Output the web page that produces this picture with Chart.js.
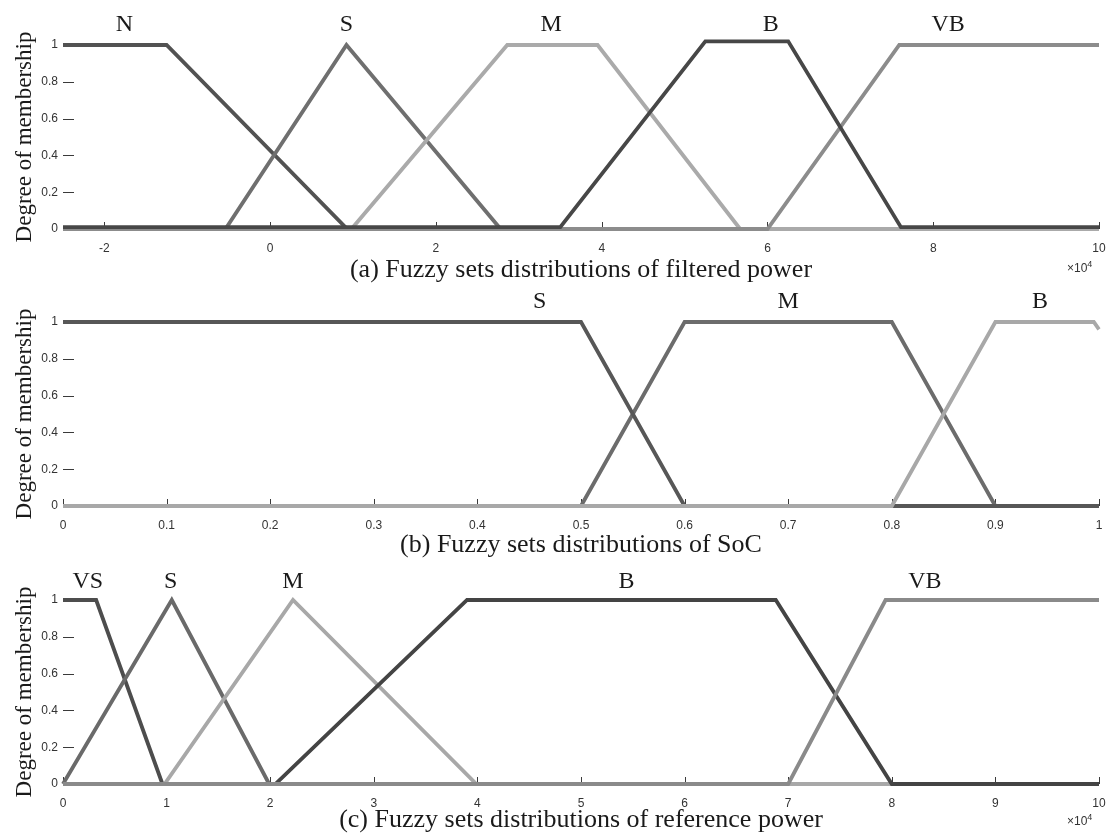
<!DOCTYPE html>
<html>
<head>
<meta charset="utf-8">
<script src="https://cdn.jsdelivr.net/npm/chart.js@4.4.1/dist/chart.umd.min.js"></script>
<style>
  html, body { margin: 0; padding: 0; background: #fff; }
  body { width: 1110px; height: 836px; position: relative; overflow: hidden; }
  canvas { position: absolute; left: 0; }
  .cap { position: absolute; left: 0; width: 1162px; text-align: center; font-family: "Liberation Serif", "Times New Roman", serif; font-size: 26px; line-height: 26px; color: #1a1a1a; white-space: nowrap; }
  .mult { position: absolute; left: 1067px; font-family: "Liberation Sans", Arial, sans-serif; font-size: 12px; line-height: 12px; color: #333; }
  .mult sup { font-size: 9px; vertical-align: 5px; line-height: 0; }
</style>
</head>
<body>
<canvas id="cA" width="1110" height="252" style="top:0px"></canvas>
<canvas id="cB" width="1110" height="252" style="top:277px"></canvas>
<canvas id="cC" width="1110" height="252" style="top:555px"></canvas>
<div class="cap" style="top:256px">(a) Fuzzy sets distributions of filtered power</div>
<div class="cap" style="top:531px">(b) Fuzzy sets distributions of SoC</div>
<div class="cap" style="top:806px">(c) Fuzzy sets distributions of reference power</div>
<div class="mult" style="top:262px">&times;10<sup>4</sup></div>
<div class="mult" style="top:815px">&times;10<sup>4</sup></div>
<script>
// ---------- shared ----------
const yTicks = [0, 0.2, 0.4, 0.6, 0.8, 1];
const yTickLabels = ["0", "0.2", "0.4", "0.6", "0.8", "1"];
const yTitle = "Degree of membership";

// ---------- panel (a): filtered power (x in units of 10^4) ----------
const aRange = [-2.5, 10];
const aTicks = [-2, 0, 2, 4, 6, 8, 10];
const aSetNames = ["N", "S", "M", "B", "VB"];
const aLabelX = [-1.76, 0.92, 3.39, 6.04, 8.18];
const aN_x  = [-2.5, -1.25, 0.93, 10];
const aN_y  = [1, 1, 0, 0];
const aS_x  = [-2.5, -0.54, 0.92, 2.78, 10];
const aS_y  = [0, 0, 1, 0, 0];
const aM_x  = [-2.5, 0.98, 2.86, 3.95, 5.67, 10];
const aM_y  = [0, 0, 1, 1, 0, 0];
const aB_x  = [-2.5, 3.5, 5.25, 6.25, 7.61, 10];
const aB_y  = [0.01, 0.01, 1.02, 1.02, 0.01, 0.01];
const aVB_x = [-2.5, 6.0, 7.59, 10];
const aVB_y = [0, 0, 1, 1];

// ---------- panel (b): SoC ----------
const bRange = [0, 1];
const bTicks = [0, 0.1, 0.2, 0.3, 0.4, 0.5, 0.6, 0.7, 0.8, 0.9, 1];
const bSetNames = ["S", "M", "B"];
const bLabelX = [0.46, 0.70, 0.943];
const bS_x = [0, 0.5, 0.6, 1];
const bS_y = [1, 1, 0, 0];
const bM_x = [0, 0.5, 0.6, 0.8, 0.9, 1];
const bM_y = [0, 0, 1, 1, 0, 0];
const bB_x = [0, 0.8, 0.9, 0.995, 1];
const bB_y = [0, 0, 1, 1, 0.96];

// ---------- panel (c): reference power (x in units of 10^4) ----------
const cRange = [0, 10];
const cTicks = [0, 1, 2, 3, 4, 5, 6, 7, 8, 9, 10];
const cSetNames = ["VS", "S", "M", "B", "VB"];
const cLabelX = [0.24, 1.04, 2.22, 5.44, 8.32];
const cVS_x = [0, 0.32, 0.96, 10];
const cVS_y = [1, 1, 0, 0];
const cS_x  = [0, 1.05, 1.99, 10];
const cS_y  = [0, 1, 0, 0];
const cM_x  = [0, 0.98, 2.22, 3.99, 10];
const cM_y  = [0, 0, 1, 0, 0];
const cB_x  = [0, 2.05, 3.9, 6.88, 8.0, 10];
const cB_y  = [0, 0, 1, 1, 0, 0];
const cVB_x = [0, 7.0, 7.94, 10];
const cVB_y = [0, 0, 1, 1];

function pts(xs, ys) { return xs.map((x, i) => ({ x: x, y: ys[i] })); }
function ds(xs, ys, color, order) {
  return { data: pts(xs, ys), borderColor: color, backgroundColor: color, borderWidth: 3.8,
           pointRadius: 0, tension: 0, fill: false, clip: false, order: order,
           borderJoinStyle: 'miter', borderCapStyle: 'butt' };
}
function fmtNum(v) { return String(Math.round(v * 1000) / 1000); }

const tickMarks = {
  id: 'tickMarks',
  beforeDatasetsDraw(chart) {
    const ctx = chart.ctx, ca = chart.chartArea;
    const xs = chart.scales.x, ys = chart.scales.y;
    ctx.save();
    ctx.strokeStyle = '#3a3a3a';
    ctx.lineWidth = 1;
    ctx.beginPath();
    xs.ticks.forEach(t => {
      const px = Math.round(xs.getPixelForValue(t.value)) + 0.5;
      ctx.moveTo(px, ca.bottom); ctx.lineTo(px, ca.bottom - 7);
    });
    ys.ticks.forEach(t => {
      const py = Math.round(ys.getPixelForValue(t.value)) + 0.5;
      ctx.moveTo(ca.left, py); ctx.lineTo(ca.left + 11, py);
    });
    ctx.stroke();
    ctx.restore();
  }
};

const setLabels = {
  id: 'setLabels',
  afterDraw(chart) {
    const o = chart.options.plugins.setLabels;
    if (!o) return;
    const ctx = chart.ctx, xs = chart.scales.x, ys = chart.scales.y;
    ctx.save();
    ctx.font = '24px "Liberation Serif", "Times New Roman", serif';
    ctx.fillStyle = '#1a1a1a';
    ctx.textAlign = 'center';
    ctx.textBaseline = 'alphabetic';
    o.names.forEach((n, i) => {
      ctx.fillText(n, xs.getPixelForValue(o.xs[i]), ys.getPixelForValue(1) - o.dy);
    });
    ctx.restore();
  }
};

function makeChart(id, range, ticks, datasets, names, labelXs, dy) {
  return new Chart(document.getElementById(id), {
    type: 'line',
    data: { datasets: datasets },
    options: {
      responsive: false,
      animation: false,
      events: [],
      layout: { padding: { top: 45, right: 11, left: 0, bottom: 0 } },
      plugins: { legend: { display: false }, tooltip: { enabled: false },
                 setLabels: { names: names, xs: labelXs, dy: dy } },
      scales: {
        x: {
          type: 'linear', min: range[0], max: range[1],
          afterFit(s) { s.height = 23; s.paddingLeft = 0; s.paddingRight = 0; },
          afterBuildTicks(s) { s.ticks = ticks.map(v => ({ value: v })); },
          ticks: { font: { family: '"Liberation Sans", Arial, sans-serif', size: 12 }, color: '#333',
                   padding: 12, maxRotation: 0, autoSkip: false, callback: v => fmtNum(v) },
          grid: { display: false, drawTicks: false },
          border: { display: false }
        },
        y: {
          type: 'linear', min: 0, max: 1,
          afterFit(s) { s.width = 63; s.paddingTop = 0; s.paddingBottom = 0; },
          afterBuildTicks(s) { s.ticks = yTicks.map(v => ({ value: v })); },
          ticks: { font: { family: '"Liberation Sans", Arial, sans-serif', size: 12 }, color: '#333',
                   padding: 5, callback: (v) => yTickLabels[yTicks.indexOf(v)] },
          grid: { display: false, drawTicks: false },
          border: { display: false },
          title: { display: true, text: yTitle, color: '#1a1a1a',
                   font: { family: '"Liberation Serif", "Times New Roman", serif', size: 23 },
                   padding: { top: 11, bottom: 0 } }
        }
      }
    },
    plugins: [tickMarks, setLabels]
  });
}

makeChart('cA', aRange, aTicks, [
  ds(aN_x, aN_y, '#525252', 4),
  ds(aS_x, aS_y, '#6f6f6f', 3),
  ds(aM_x, aM_y, '#aaaaaa', 2),
  ds(aB_x, aB_y, '#474747', 0),
  ds(aVB_x, aVB_y, '#8c8c8c', 1)
], aSetNames, aLabelX, 14);

makeChart('cB', bRange, bTicks, [
  ds(bS_x, bS_y, '#575757', 1),
  ds(bM_x, bM_y, '#6c6c6c', 2),
  ds(bB_x, bB_y, '#a8a8a8', 0)
], bSetNames, bLabelX, 14);

makeChart('cC', cRange, cTicks, [
  ds(cVS_x, cVS_y, '#4d4d4d', 4),
  ds(cS_x, cS_y, '#6a6a6a', 3),
  ds(cM_x, cM_y, '#a8a8a8', 2),
  ds(cB_x, cB_y, '#444444', 1),
  ds(cVB_x, cVB_y, '#8a8a8a', 0)
], cSetNames, cLabelX, 12);
</script>
</body>
</html>
